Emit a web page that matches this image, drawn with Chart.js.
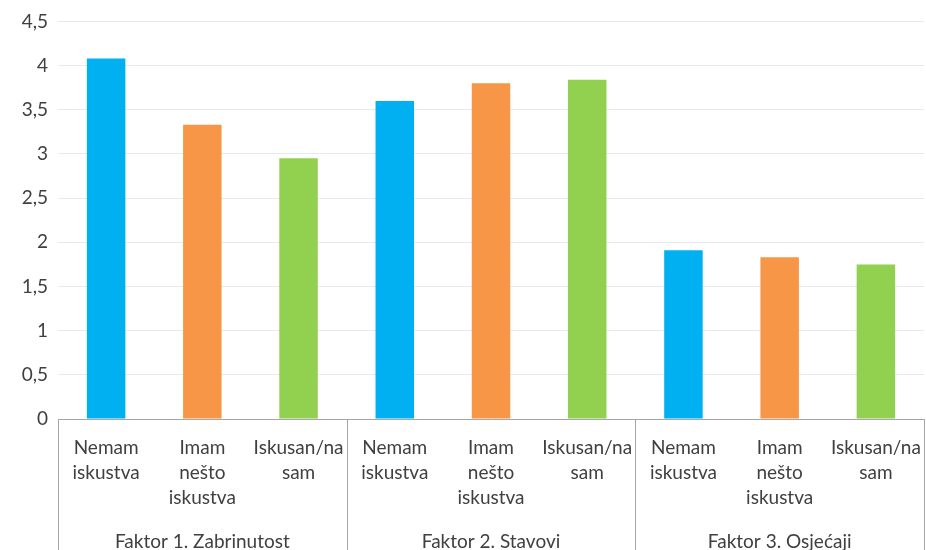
<!DOCTYPE html>
<html>
<head>
<meta charset="utf-8">
<script src="https://cdn.jsdelivr.net/npm/chart.js@4"></script>
<style>
  html, body { margin: 0; padding: 0; background: #fff; }
  #wrap { width: 926px; height: 550px; }
</style>
</head>
<body>
<div id="wrap"><canvas id="myChart"></canvas></div>
<script>
// Data
const factors = ['Faktor 1. Zabrinutost', 'Faktor 2. Stavovi', 'Faktor 3. Osjećaji'];
const groups = [['Nemam', 'iskustva'], ['Imam', 'nešto', 'iskustva'], ['Iskusan/na', 'sam']];
const nemam = [4.08, 3.60, 1.91];
const imam = [3.33, 3.80, 1.83];
const iskusan = [2.95, 3.84, 1.75];
const yTicks = [0, 0.5, 1, 1.5, 2, 2.5, 3, 3.5, 4, 4.5];

const colors = ['#00B0F0', '#F79646', '#92D050'];
const textColor = '#404040';
const fontFamily = 'Lato, "Open Sans", sans-serif';
const fontSize = 19;

// flatten into 9 categories
const labels = [];
const values = [];
const barColors = [];
for (let f = 0; f < factors.length; f++) {
  const series = [nemam, imam, iskusan];
  for (let g = 0; g < groups.length; g++) {
    labels.push(groups[g]);
    values.push(series[g][f]);
    barColors.push(colors[g]);
  }
}

// group labels and separators under the axis
const groupAxis = {
  id: 'groupAxis',
  afterDraw(chart) {
    const ctx = chart.ctx;
    const x = chart.scales.x;
    const area = chart.chartArea;
    const bottom = chart.height;
    const per = groups.length;
    ctx.save();
    ctx.strokeStyle = '#A6A6A6';
    ctx.lineWidth = 1;
    ctx.fillStyle = textColor;
    ctx.font = fontSize + 'px ' + fontFamily;
    ctx.textAlign = 'center';
    ctx.textBaseline = 'middle';
    const half = (x.getPixelForValue(1) - x.getPixelForValue(0)) / 2;
    for (let f = 0; f <= factors.length; f++) {
      let px;
      if (f === 0) px = area.left;
      else if (f === factors.length) px = area.right;
      else px = x.getPixelForValue(f * per) - half;
      px = Math.round(px) + 0.5;
      ctx.beginPath();
      ctx.moveTo(px, area.bottom);
      ctx.lineTo(px, bottom);
      ctx.stroke();
    }
    for (let f = 0; f < factors.length; f++) {
      const cx = x.getPixelForValue(f * per + 1);
      ctx.fillText(factors[f], cx, 542);
    }
    ctx.restore();
  }
};

const data = {
  labels: labels,
  datasets: [{
    data: values,
    backgroundColor: barColors,
    borderWidth: 0,
    categoryPercentage: 1,
    barPercentage: 0.4
  }]
};

const config = {
  type: 'bar',
  data,
  options: {
    responsive: true,
    maintainAspectRatio: false,
    animation: false,
    layout: { padding: { top: 20, right: 2, left: 0, bottom: 0 } },
    plugins: {
      legend: { display: false },
      tooltip: { enabled: false }
    },
    scales: {
      x: {
        grid: { display: false, drawTicks: false },
        border: { color: '#A6A6A6', width: 1 },
        ticks: {
          autoSkip: false,
          maxRotation: 0,
          minRotation: 0,
          padding: 16,
          color: textColor,
          font: { family: fontFamily, size: fontSize, lineHeight: 25 / fontSize }
        },
        afterFit(scale) {
          scale.height = 131;
          scale.paddingLeft = 0;
          scale.paddingRight = 0;
        }
      },
      y: {
        min: 0,
        max: 4.5,
        afterBuildTicks(scale) { scale.ticks = yTicks.map(v => ({ value: v })); },
        grid: { color: '#E5EAF0', drawTicks: false },
        border: { display: false },
        ticks: {
          padding: 10,
          color: textColor,
          font: { family: fontFamily, size: fontSize },
          callback: v => String(v).replace('.', ',')
        },
        afterFit(scale) { scale.width = 58; }
      }
    }
  },
  plugins: [groupAxis]
};

var myChart = new Chart(document.getElementById('myChart'), config);
</script>
</body>
</html>
